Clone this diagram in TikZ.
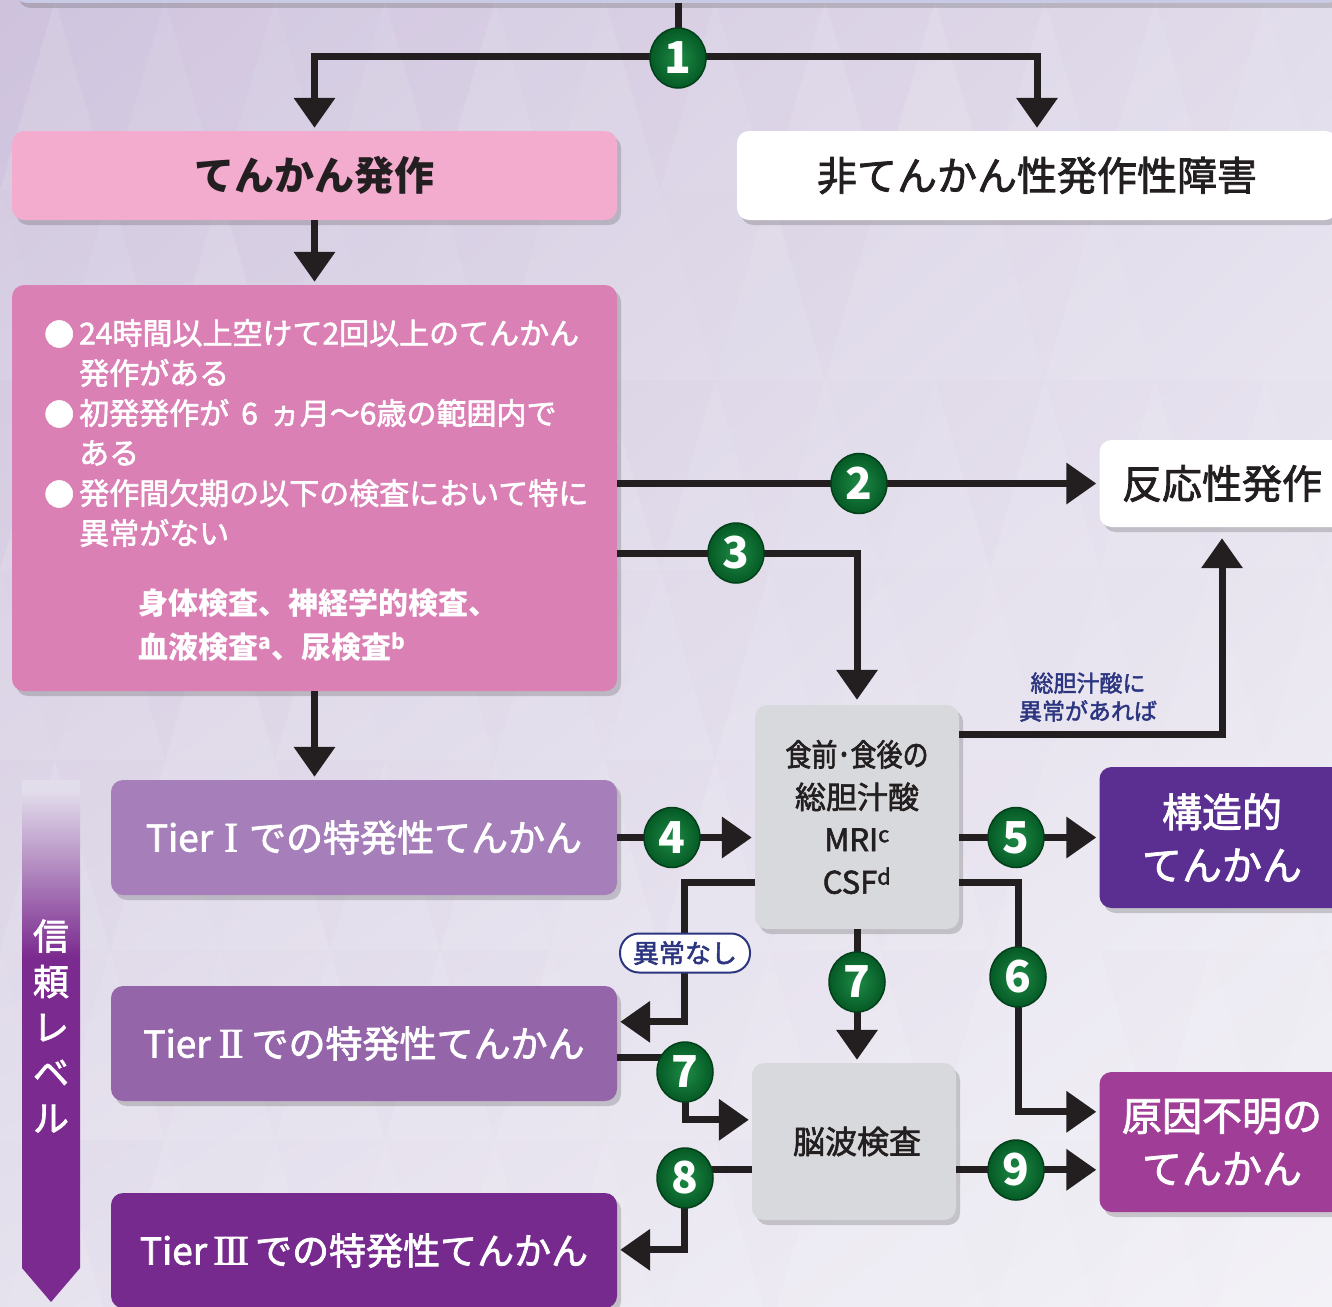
\documentclass[tikz,border=0pt]{standalone}
\usepackage{fontspec}
\setmainfont{Noto Sans CJK JP}
\newfontfamily\medf[FakeBold=2.0]{Noto Sans CJK JP}
\newfontfamily\romanf[FakeBold=1.5]{Liberation Serif}
\usetikzlibrary{arrows.meta,shadows,shapes.geometric,calc,shadings}
\newcommand\myfs[2]{\fontsize{#1}{#2}\selectfont}
\definecolor{bgA}{HTML}{D2C8E0}
\definecolor{bgB}{HTML}{E3DEEC}
\definecolor{bgC}{HTML}{E6E2EE}
\definecolor{bgD}{HTML}{F3F2F7}
\definecolor{topblue}{HTML}{C8CBE3}
\definecolor{pinkL}{HTML}{F3ABCE}
\definecolor{pinkM}{HTML}{DA80B4}
\definecolor{tierA}{HTML}{A67FBA}
\definecolor{tierB}{HTML}{9565AA}
\definecolor{tierC}{HTML}{772A8E}
\definecolor{structc}{HTML}{5B2F91}
\definecolor{unknownc}{HTML}{A03D96}
\definecolor{greybox}{HTML}{D8D9DC}
\definecolor{ink}{HTML}{231F20}
\definecolor{navy}{HTML}{2C3580}
\definecolor{gIn}{HTML}{1E8A46}
\definecolor{gOut}{HTML}{055A25}
\definecolor{gEdge}{HTML}{03401A}
\definecolor{arrowP}{HTML}{7B2A8F}
\definecolor{arrowL}{HTML}{E2DDEB}
\pgfdeclareverticalshading{levelfade}{100bp}{color(0bp)=(arrowP); color(58bp)=(arrowP); color(74bp)=(arrowL); color(100bp)=(arrowL)}
\begin{document}
\begin{tikzpicture}[x=1pt,y=-1pt,
  box/.style={rounded corners=12pt, inner sep=0pt, align=center,
    drop shadow={shadow xshift=4pt,shadow yshift=-5pt,opacity=0.25,fill=black!70}},
  conn/.style={line width=7pt, draw=ink, -{Triangle[length=30pt,width=40pt]}, shorten >=3pt},
  plain/.style={line width=7pt, draw=ink},
  badge/.style={ellipse, inner sep=0pt, minimum width=56pt, minimum height=60pt,
    draw=gEdge, line width=1.5pt, inner color=gIn, outer color=gOut,
    text=white, font=\myfs{44}{44}\bfseries},
  wtxt/.style={text=white, inner sep=0pt, anchor=west, font=\medf\myfs{30}{36}},
  tiertxt/.style={text=white, font=\medf\myfs{37}{40}},
  bigtxt/.style={font=\medf\myfs{40}{53}}
]
\useasboundingbox (0,0) rectangle (1332,1306);
\shade[upper left=bgA, upper right=bgB, lower left=bgC, lower right=bgD] (0,0) rectangle (1332,1306);

% faint triangle mosaic of the background
\pgfmathsetseed{11}
\foreach \r in {0,...,6}{
  \foreach \k in {-1,...,12}{
    \pgfmathsetmacro\xa{\k*110+mod(\r,2)*55}
    \pgfmathsetmacro\ya{\r*190}
    \pgfmathsetmacro\yb{\r*190+190}
    \pgfmathsetmacro\fade{max(0.25,1-(\xa+\ya)/2200)}
    \pgfmathsetmacro\oa{rnd*0.09*\fade}
    \pgfmathsetmacro\ob{rnd*0.035*\fade}
    \fill[white, opacity=\oa] (\xa,\yb) -- (\xa+55,\ya) -- (\xa+110,\yb) -- cycle;
    \fill[arrowP, opacity=\ob] (\xa+55,\ya) -- (\xa+165,\ya) -- (\xa+110,\yb) -- cycle;
  }
}

% top box (partially visible)
\node[box, fill=topblue, minimum width=1325pt, minimum height=30pt] (topbox) at (677,-12) {};

% level arrow
\shade[shading=levelfade] (22,780) -- (80,780) -- (80,1268) -- (51,1302) -- (22,1268) -- cycle;
\node[text=white, align=center, font=\medf\myfs{36}{45.5}, inner sep=0pt] (level) at (51,1026) {信\\頼\\レ\\ベ\\ル};

% boxes
\node[box, fill=pinkL, minimum width=605pt, minimum height=89pt, font=\myfs{40}{48}\bfseries, text=ink] (tenkan) at (314.5,175.5) {てんかん発作};
\node[box, fill=white, minimum width=600pt, minimum height=89pt, bigtxt, text=ink] (hitenkan) at (1037,175.5) {非てんかん性発作性障害};
\node[box, fill=pinkM, minimum width=605pt, minimum height=406pt] (main) at (314.5,488) {};
\node[box, fill=white, minimum width=245pt, minimum height=87pt, bigtxt, text=ink] (hannou) at (1222,483.5) {反応性発作};
\node[box, fill=greybox, minimum width=204pt, minimum height=224pt, text=ink, font=\medf\myfs{31}{42.5}] (grey1) at (857,817) {\scalebox{0.84}[1]{食前･食後の}\\総胆汁酸\\MRI\textsuperscript{c}\\CSF\textsuperscript{d}};
\node[box, fill=structc, minimum width=245pt, minimum height=141pt, bigtxt, text=white] (kouzou) at (1222,837.5) {構造的\\てんかん};
\node[box, fill=tierA, minimum width=506pt, minimum height=115pt, tiertxt] (tier1) at (364,837.5) {Tier\hspace{11pt}{\romanf\myfs{42}{40}I}\hspace{11pt}での特発性てんかん};
\node[box, fill=tierB, minimum width=506pt, minimum height=115pt, tiertxt] (tier2) at (364,1043.5) {Tier\hspace{8pt}{\romanf\myfs{42}{40}I\kern-3pt I}\hspace{8pt}での特発性てんかん};
\node[box, fill=tierC, minimum width=506pt, minimum height=115pt, tiertxt] (tier3) at (364,1250.5) {Tier\hspace{6pt}{\romanf\myfs{42}{40}I\kern-3pt I\kern-3pt I}\hspace{6pt}での特発性てんかん};
\node[box, fill=greybox, minimum width=204pt, minimum height=157pt, text=ink, font=\medf\myfs{32}{40}] (nouha) at (854,1141.5) {\hspace{6pt}脳波検査};
\node[box, fill=unknownc, minimum width=245pt, minimum height=140pt, bigtxt, text=white] (genin) at (1222,1142) {原因不明の\\てんかん};

% main box text
\node[wtxt] (bu1) at (44,334) {●};
\node[wtxt] (m1) at (79,333) {24時間以上空けて2回以上のてんかん};
\node[wtxt] (m2) at (79,373) {発作がある};
\node[wtxt] (bu2) at (44,414) {●};
\node[wtxt] (m3) at (79,413) {初発発作が\hspace{12pt}6\hspace{12pt}ヵ月～6歳の範囲内で};
\node[wtxt] (m4) at (79,453) {ある};
\node[wtxt] (bu3) at (44,494) {●};
\node[wtxt] (m5) at (79,493) {発作間欠期の以下の検査において特に};
\node[wtxt] (m6) at (79,533) {異常がない};
\node[wtxt, font=\myfs{30}{36}\bfseries] (m7) at (138,603) {身体検査、神経学的検査、};
\node[wtxt, font=\myfs{30}{36}\bfseries] (m8) at (138,647) {血液検査\textsuperscript{a}、尿検査\textsuperscript{b}};

% connectors
\coordinate (j1) at (678,57);
\draw[plain] (topbox.south -| j1) -- (j1);
\draw[conn] (j1) -| (tenkan.north);
\draw[conn] (j1) -| (hitenkan.north);
\draw[conn] (tenkan.south) -- (main.north);
\draw[conn] (main.east |- hannou.west) -- (hannou.west);
\draw[conn, shorten >=5pt] ($(main.east)+(0,65)$) -| (grey1.north);
\draw[conn] (main.south) -- (main.south |- tier1.north);
\draw[conn, shorten >=11pt] ($(grey1.north east)+(0,30)$) -| (hannou.south);
\draw[conn] (tier1.east) -- (tier1.east -| grey1.west);
\draw[conn] (grey1.east |- kouzou.west) -- (kouzou.west);
\draw[conn] ($(grey1.west)+(0,65)$) -- ($(grey1.west)+(-70,65)$) |- ($(tier2.north east)+(0,36)$);
\draw[conn] ($(grey1.east)+(0,65)$) -- ($(grey1.east)+(59,65)$) |- ($(genin.north west)+(0,40)$);
\draw[conn] (grey1.south) -- (grey1.south |- nouha.north);
\draw[conn] ($(tier2.north east)+(0,72)$) -- ++(68,0) |- ($(nouha.north west)+(0,57)$);
\draw[conn] ($(nouha.north west)+(0,107)$) -- ++(-67,0) |- ($(tier3.north east)+(0,57)$);
\draw[conn] ($(nouha.north east)+(0,107)$) -- ($(genin.north west)+(0,98)$);

% labels
\node[text=navy, align=center, font=\medf\myfs{23}{28}, inner sep=0pt] (lbl1) at (1088,697) {総胆汁酸に\\異常があれば};
\node[draw=navy, line width=2pt, fill=white, rounded corners=19pt, minimum width=130pt, minimum height=39pt, inner sep=0pt, text=navy, font=\medf\myfs{26}{26}] (nashi) at (685,953) {異常なし};

% badges
\node[badge] (b1) at (678,58) {1};
\node[badge] (b2) at (859,483.5) {2};
\node[badge] (b3) at (736,553) {3};
\node[badge] (b4) at (672,837.5) {4};
\node[badge] (b5) at (1016,837.5) {5};
\node[badge] (b6) at (1018,977) {6};
\node[badge] (b7a) at (857,982) {7};
\node[badge] (b7b) at (685,1072) {7};
\node[badge] (b8) at (685,1178) {8};
\node[badge] (b9) at (1016,1170) {9};
\end{tikzpicture}
\end{document}
